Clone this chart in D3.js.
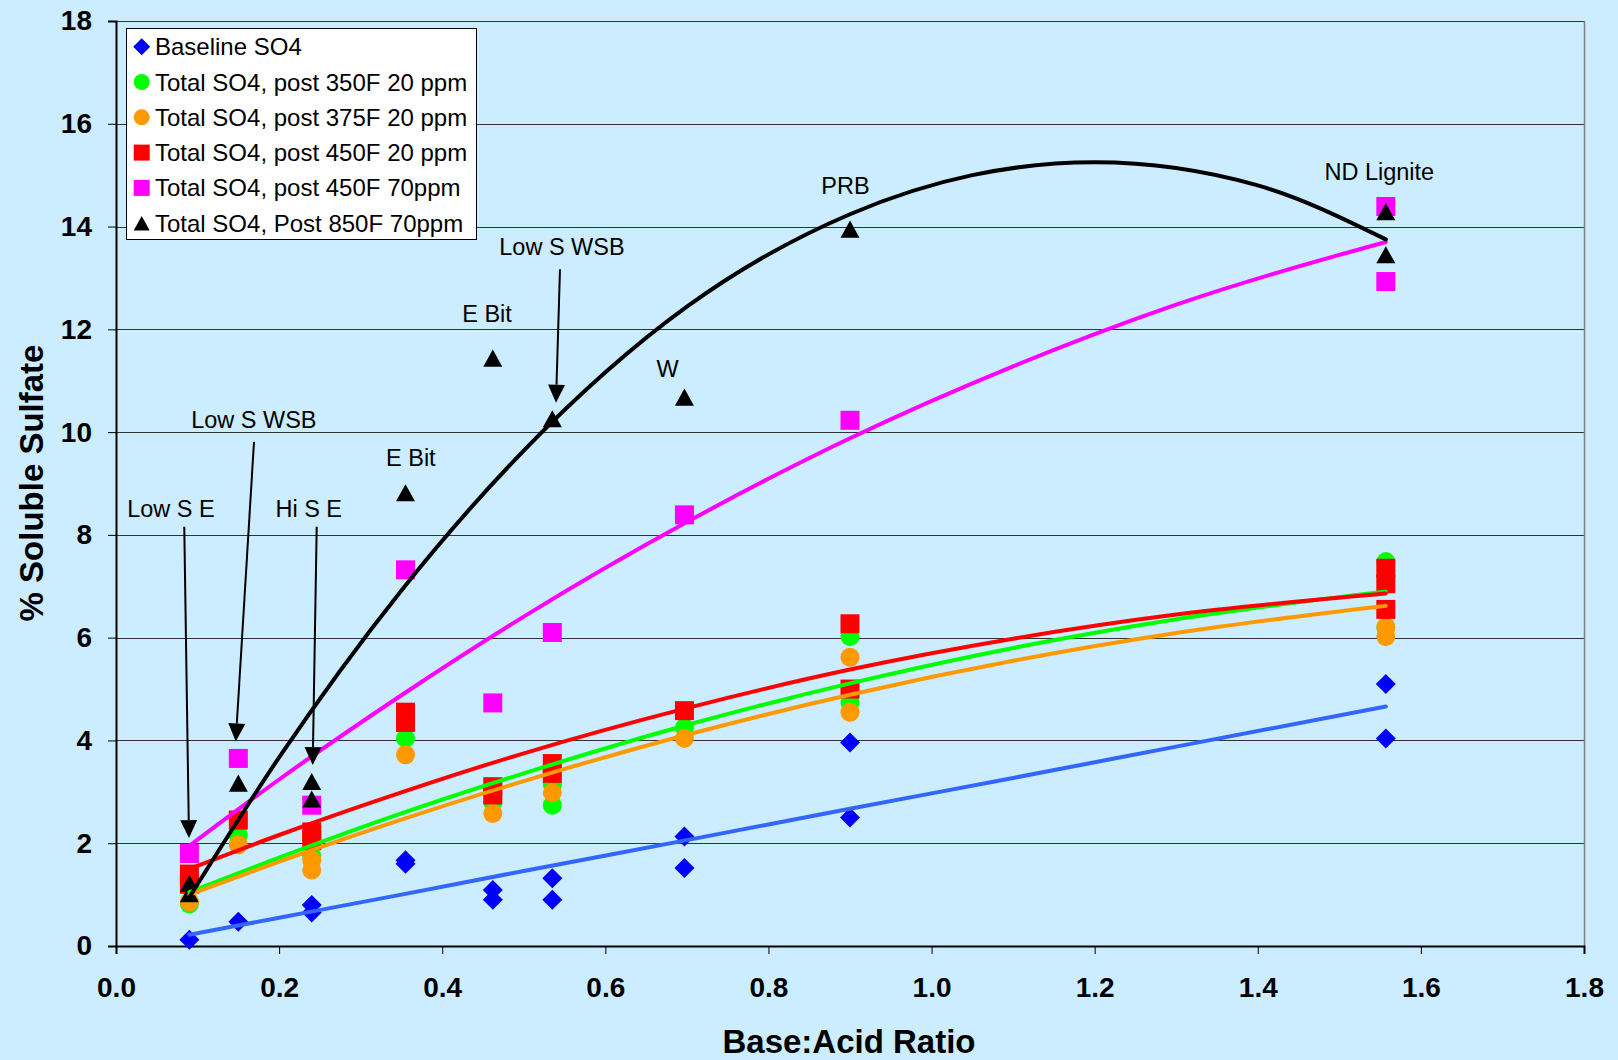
<!DOCTYPE html>
<html>
<head>
<meta charset="utf-8">
<script src="https://d3js.org/d3.v7.min.js"></script>
<style>
body { margin: 0; background: #CCECFF; }
svg { display: block; font-family: "Liberation Sans", Arial, sans-serif; }
.axis text { font-size: 28px; font-weight: bold; fill: #000; }
.axis path, .axis line { stroke: #000; }
.note { font-size: 23.5px; fill: #000; }
</style>
</head>
<body>
<svg width="1618" height="1060"></svg>
<script>
// ---- data ----
var xTicks = [0.0, 0.2, 0.4, 0.6, 0.8, 1.0, 1.2, 1.4, 1.6, 1.8];
var yTicks = [0, 2, 4, 6, 8, 10, 12, 14, 16, 18];

var seriesNames = ["Baseline SO4", "Total SO4, post 350F 20 ppm", "Total SO4, post 375F 20 ppm",
                   "Total SO4, post 450F 20 ppm", "Total SO4, post 450F 70ppm", "Total SO4, Post 850F 70ppm"];
var seriesColors = ["#0000FF", "#00FF00", "#FF9900", "#FF0000", "#FF00FF", "#000000"];
var seriesShapes = ["diamond", "circle", "circle", "square", "square", "triangle"];
var trendColors = ["#3366FF", "#00FF00", "#FF9900", "#FF0000", "#FF00FF", "#000000"];

var baseX  = [0.09, 0.15, 0.24, 0.24, 0.355, 0.355, 0.462, 0.462, 0.535, 0.535, 0.697, 0.697, 0.90, 0.90, 1.557, 1.557];
var baseY  = [0.12, 0.47, 0.80, 0.65, 1.67, 1.60, 1.09, 0.90, 1.32, 0.90, 2.13, 1.52, 3.96, 2.50, 5.10, 4.04];

var p350X  = [0.09, 0.15, 0.24, 0.355, 0.462, 0.535, 0.535, 0.697, 0.90, 0.90, 1.557, 1.557];
var p350Y  = [0.82, 2.16, 1.75, 4.04, 2.80, 3.15, 2.74, 4.25, 6.02, 4.74, 7.48, 6.20];

var p375X  = [0.09, 0.15, 0.24, 0.24, 0.355, 0.462, 0.535, 0.697, 0.90, 0.90, 1.557, 1.557];
var p375Y  = [0.86, 1.97, 1.67, 1.48, 3.72, 2.58, 2.98, 4.04, 5.62, 4.55, 6.21, 6.02];

var p450X  = [0.09, 0.09, 0.15, 0.24, 0.24, 0.355, 0.355, 0.462, 0.462, 0.535, 0.535, 0.697, 0.90, 0.90, 1.557, 1.557, 1.557];
var p450Y  = [1.40, 1.20, 2.45, 2.22, 2.05, 4.55, 4.35, 3.10, 2.94, 3.55, 3.36, 4.58, 6.27, 5.00, 7.35, 7.05, 6.55];

var p450hX = [0.09, 0.15, 0.24, 0.355, 0.462, 0.535, 0.697, 0.90, 1.557, 1.557];
var p450hY = [1.80, 3.65, 2.74, 7.32, 4.73, 6.10, 8.39, 10.23, 14.39, 12.93];

var p850X  = [0.09, 0.09, 0.15, 0.24, 0.24, 0.355, 0.462, 0.535, 0.697, 0.90, 1.557, 1.557];
var p850Y  = [1.22, 1.02, 3.17, 3.20, 2.86, 8.82, 11.44, 10.26, 10.68, 13.95, 14.29, 13.45];

// trend lines, read at sample points
var trendX     = [0.09, 0.2, 0.35, 0.5, 0.7, 0.9, 1.1, 1.3, 1.557];
var trendBase  = [0.22, 0.55, 1.00, 1.46, 2.06, 2.67, 3.27, 3.88, 4.66];
var trend350   = [1.05, 1.72, 2.58, 3.36, 4.30, 5.11, 5.80, 6.36, 6.90];
var trend375   = [1.00, 1.64, 2.46, 3.21, 4.11, 4.89, 5.55, 6.09, 6.62];
var trend450   = [1.50, 2.16, 2.99, 3.75, 4.63, 5.38, 5.98, 6.45, 6.86];
var trend450h  = [1.95, 3.24, 4.88, 6.41, 8.25, 9.88, 11.28, 12.48, 13.70];
var trend850X  = [0.09, 0.2, 0.35, 0.5, 0.7, 0.9, 1.05, 1.2, 1.4, 1.557];
var trend850   = [0.95, 3.67, 6.92, 9.64, 12.44, 14.24, 15.0, 15.25, 14.8, 13.75];

// text notes and arrows (data units)
var noteText = ["Low S E", "Low S WSB", "Hi S E", "E Bit", "E Bit", "Low S WSB", "W", "PRB", "ND Lignite"];
var noteX    = [0.0674, 0.169, 0.2363, 0.3615, 0.4549, 0.5468, 0.6763, 0.8944, 1.549];
var noteY    = [8.35, 10.08, 8.35, 9.34, 12.14, 13.45, 11.08, 14.63, 14.91];
var arrowX0  = [0.0837, 0.1692, 0.2461, 0.5444];
var arrowY0  = [8.16, 9.81, 8.16, 13.17];
var arrowX1  = [0.0895, 0.1468, 0.2412, 0.5395];
var arrowY1  = [2.10, 3.98, 3.52, 10.57];

// ---- drawing ----
var svg = d3.select("svg");
var plotLeft = 116, plotRight = 1584, plotTop = 21, plotBottom = 946;

var x = d3.scaleLinear().domain([0, 1.8]).range([plotLeft, plotRight]);
var y = d3.scaleLinear().domain([0, 18]).range([plotBottom, plotTop]);

svg.append("rect").attr("width", 1618).attr("height", 1060).attr("fill", "#CCECFF");

// grid
svg.append("g").selectAll("line").data(yTicks.slice(1)).enter().append("line")
  .attr("x1", plotLeft).attr("x2", plotRight)
  .attr("y1", function(d) { return Math.round(y(d)) + 0.5; })
  .attr("y2", function(d) { return Math.round(y(d)) + 0.5; })
  .attr("stroke", "#333").attr("stroke-width", 1);
svg.append("line").attr("x1", plotRight + 0.5).attr("x2", plotRight + 0.5).attr("y1", plotTop).attr("y2", plotBottom)
  .attr("stroke", "#808080").attr("stroke-width", 1.5);

// axes
var yAxis = d3.axisLeft(y).tickValues(yTicks).tickSize(8).tickPadding(16).tickFormat(d3.format("d"));
svg.append("g").attr("class", "axis").attr("transform", "translate(" + plotLeft + ",0)").call(yAxis)
  .select(".domain").attr("stroke-width", 2);

var xAxis = d3.axisBottom(x).tickValues(xTicks).tickSize(8).tickPadding(23).tickFormat(d3.format(".1f"));
svg.append("g").attr("class", "axis").attr("transform", "translate(0," + plotBottom + ")").call(xAxis)
  .select(".domain").attr("stroke-width", 2);

svg.append("text").attr("x", 849).attr("y", 1053).attr("text-anchor", "middle")
  .attr("font-size", 33).attr("font-weight", "bold").text("Base:Acid Ratio");
svg.append("text").attr("transform", "translate(43,483) rotate(-90)").attr("text-anchor", "middle")
  .attr("font-size", 33).attr("font-weight", "bold").text("% Soluble Sulfate");

// marker shapes
function markerPath(shape, s) {
  var h = s / 2;
  if (shape === "diamond") return "M0," + (-h - 0.5) + "L" + (h + 0.5) + ",0L0," + (h + 0.5) + "L" + (-h - 0.5) + ",0Z";
  if (shape === "square") return "M" + (-h) + "," + (-h) + "h" + s + "v" + s + "h" + (-s) + "Z";
  if (shape === "triangle") return "M0," + (-h * 0.9) + "L" + h + "," + (h * 0.9) + "L" + (-h) + "," + (h * 0.9) + "Z";
  return "M" + (-h) + ",0A" + h + "," + h + " 0 1,0 " + h + ",0A" + h + "," + h + " 0 1,0 " + (-h) + ",0Z";
}

var pointSets = [[baseX, baseY], [p350X, p350Y], [p375X, p375Y], [p450X, p450Y], [p450hX, p450hY], [p850X, p850Y]];
pointSets.forEach(function(set, i) {
  var pts = set[0].map(function(v, k) { return [v, set[1][k]]; });
  svg.append("g").selectAll("path").data(pts).enter().append("path")
    .attr("transform", function(d) { return "translate(" + x(d[0]) + "," + y(d[1]) + ")"; })
    .attr("d", markerPath(seriesShapes[i], 19))
    .attr("fill", seriesColors[i]);
});

// trend lines
var trendSets = [[trendX, trendBase], [trendX, trend350], [trendX, trend375], [trendX, trend450], [trendX, trend450h], [trend850X, trend850]];
var line = d3.line().x(function(d) { return x(d[0]); }).y(function(d) { return y(d[1]); }).curve(d3.curveMonotoneX);
trendSets.forEach(function(set, i) {
  var pts = set[0].map(function(v, k) { return [v, set[1][k]]; });
  svg.append("path").datum(pts).attr("d", line).attr("fill", "none")
    .attr("stroke", trendColors[i]).attr("stroke-width", 4).attr("stroke-linecap", "round");
});

// notes
svg.append("g").selectAll("text").data(noteText).enter().append("text")
  .attr("class", "note").attr("text-anchor", "middle")
  .attr("x", function(d, i) { return x(noteX[i]); })
  .attr("y", function(d, i) { return y(noteY[i]); })
  .text(function(d) { return d; });

arrowX0.forEach(function(v, i) {
  var x0 = x(v), y0 = y(arrowY0[i]), x1 = x(arrowX1[i]), y1 = y(arrowY1[i]);
  var dx = x1 - x0, dy = y1 - y0, len = Math.sqrt(dx * dx + dy * dy);
  var ux = dx / len, uy = dy / len;
  var bx = x1 - ux * 18, by = y1 - uy * 18;
  svg.append("line").attr("x1", x0).attr("y1", y0).attr("x2", bx).attr("y2", by)
    .attr("stroke", "#000").attr("stroke-width", 2);
  svg.append("path")
    .attr("d", "M" + x1 + "," + y1 + "L" + (bx - uy * 8.5) + "," + (by + ux * 8.5) + "L" + (bx + uy * 8.5) + "," + (by - ux * 8.5) + "Z")
    .attr("fill", "#000");
});

// legend
var lg = svg.append("g");
lg.append("rect").attr("x", 126.5).attr("y", 28.5).attr("width", 350).attr("height", 211)
  .attr("fill", "#fff").attr("stroke", "#000").attr("stroke-width", 1);
seriesNames.forEach(function(name, i) {
  var cy = 46.7 + i * 35.3;
  lg.append("path").attr("transform", "translate(141.7," + cy + ")")
    .attr("d", markerPath(seriesShapes[i], 16)).attr("fill", seriesColors[i]);
  lg.append("text").attr("x", 155).attr("y", cy + 8.5).attr("font-size", 24).text(name);
});
</script>
</body>
</html>
